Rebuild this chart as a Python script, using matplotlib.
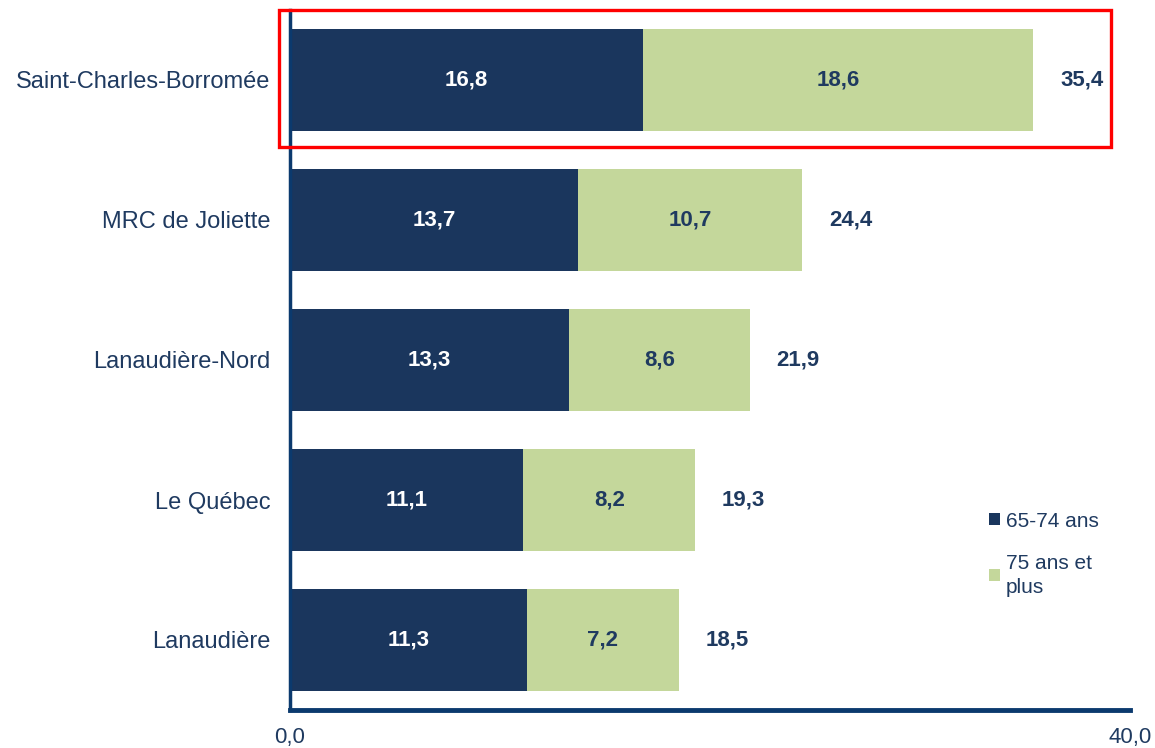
import matplotlib
matplotlib.use("Agg")
import matplotlib.pyplot as plt
from matplotlib.patches import Rectangle

plt.rcParams['font.family'] = ['Liberation Sans', 'DejaVu Sans']

# data (top to bottom as drawn)
regions = ["Saint-Charles-Borromée", "MRC de Joliette", "Lanaudière-Nord",
           "Le Québec", "Lanaudière"]
age_65_74 = [16.8, 13.7, 13.3, 11.1, 11.3]
age_75_plus = [18.6, 10.7, 8.6, 8.2, 7.2]
totals = [35.4, 24.4, 21.9, 19.3, 18.5]
series_names = ["65-74 ans", "75 ans et\nplus"]

navy = "#1a365d"
green = "#c4d79b"
txt = "#1f3a60"
axis_col = "#0b3a6e"

fig = plt.figure(figsize=(11.55, 7.48), dpi=100)
ax = fig.add_axes([290 / 1155, 38 / 748, 840 / 1155, 700 / 748])

ypos = list(range(len(regions)))[::-1]
ax.barh(ypos, age_65_74, height=0.735, color=navy, label=series_names[0])
ax.barh(ypos, age_75_plus, left=age_65_74, height=0.735, color=green,
        label=series_names[1])

for y, a, b, t in zip(ypos, age_65_74, age_75_plus, totals):
    ax.text(a / 2, y, f"{a:.1f}".replace(".", ","), ha="center", va="center",
            color="white", fontsize=16, fontweight="bold")
    ax.text(a + b / 2, y, f"{b:.1f}".replace(".", ","), ha="center", va="center",
            color=txt, fontsize=16, fontweight="bold")
    ax.text(t + 2.3, y, f"{t:.1f}".replace(".", ","), ha="center", va="center",
            color=txt, fontsize=16, fontweight="bold")

ax.set_xlim(0, 40)
ax.set_ylim(-0.5, 4.5)
ax.set_xticks([0, 40])
ax.set_xticklabels(["0,0", "40,0"], fontsize=16, color=txt)
ax.set_yticks(ypos)
ax.set_yticklabels(regions, fontsize=17, color=txt)
ax.tick_params(axis="both", length=0)
ax.tick_params(axis="y", pad=14)
ax.tick_params(axis="x", pad=12)
ax.spines["top"].set_visible(False)
ax.spines["right"].set_visible(False)
ax.spines["left"].set_color(axis_col)
ax.spines["left"].set_linewidth(2.5)
ax.spines["bottom"].set_color(axis_col)
ax.spines["bottom"].set_linewidth(3.5)

# highlight box around the first row
ax.add_patch(Rectangle((-0.52, 3.52), 39.62, 0.98, fill=False, edgecolor="red",
                       linewidth=2.4, clip_on=False, zorder=5))

leg = ax.legend(loc="upper left", bbox_to_anchor=(0.81, 0.31), frameon=False,
                fontsize=15, handlelength=0.5, handleheight=0.5,
                handletextpad=0.3, labelspacing=1.1)
for t in leg.get_texts():
    t.set_color(txt)
    t.set_linespacing(1.35)

fig.savefig("out.png", dpi=100)
